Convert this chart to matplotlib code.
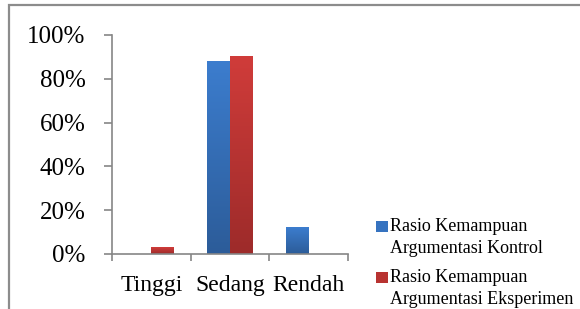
import numpy as np
import matplotlib.pyplot as plt
from matplotlib.colors import LinearSegmentedColormap
from matplotlib.patches import Rectangle
from matplotlib.legend_handler import HandlerBase

categories = ["Tinggi", "Sedang", "Rendah"]
kontrol = [0.0, 0.88, 0.12]
eksperimen = [0.03, 0.90, 0.0]
series_names = ["Rasio Kemampuan\nArgumentasi Kontrol",
                "Rasio Kemampuan\nArgumentasi Eksperimen"]
y_ticks = [0, 0.2, 0.4, 0.6, 0.8, 1.0]
y_labels = ["0%", "20%", "40%", "60%", "80%", "100%"]

plt.rcParams["font.family"] = ["Liberation Serif", "DejaVu Serif"]


class TopSquare(HandlerBase):
    # small square next to the first text line instead of the last one
    def create_artists(self, legend, orig_handle, xdescent, ydescent,
                       width, height, fontsize, trans):
        s = 0.62 * fontsize
        r = Rectangle((-xdescent, -ydescent + height - s), s, s,
                      facecolor=orig_handle.get_facecolor(),
                      edgecolor="none", transform=trans)
        return [r]


fig = plt.figure(figsize=(5.8, 3.09), dpi=100)
ax = fig.add_axes([0.193, 0.178, 0.407, 0.709])

# outer chart frame (only top and left edges fall inside the picture)
fig.patches.append(Rectangle((9 / 580, -0.1), 1.2, 1.1 - 5 / 309 + 0.001,
                             transform=fig.transFigure, fill=False,
                             edgecolor="#8c8c8c", linewidth=1.6))

x = np.arange(len(categories))
w = 0.29
blue = LinearSegmentedColormap.from_list("b", ["#2c5c99", "#3c7dce"])
red = LinearSegmentedColormap.from_list("r", ["#9d2b2a", "#d03c3a"])
grad = np.linspace(0, 1, 256).reshape(-1, 1)

bars_k = ax.bar(x - w / 2, kontrol, w, color="#3470b8")
bars_e = ax.bar(x + w / 2, eksperimen, w, color="#be3533")

# vertical gradient fill, like the office chart style
for bars, cmap in [(bars_k, blue), (bars_e, red)]:
    for b in bars:
        if b.get_height() <= 0:
            continue
        x0 = b.get_x()
        ax.imshow(grad, extent=[x0, x0 + b.get_width(), 0, b.get_height()],
                  origin="lower", cmap=cmap, aspect="auto", zorder=2)

ax.set_xlim(-0.5, 2.5)
ax.set_ylim(0, 1.0)
ax.set_yticks(y_ticks)
ax.set_yticklabels(y_labels, fontsize=18)
ax.set_xticks([-0.5, 0.5, 1.5, 2.5])
ax.set_xticklabels([])
ax.set_xticks(x, minor=True)
ax.set_xticklabels(categories, minor=True, fontsize=17)
ax.tick_params(axis="x", which="minor", length=0, pad=15)
ax.tick_params(axis="x", which="major", length=5, color="#868686", width=1.2)
ax.tick_params(axis="y", length=6, color="#868686", width=1.2, pad=13)

for s in ["top", "right"]:
    ax.spines[s].set_visible(False)
for s in ["left", "bottom"]:
    ax.spines[s].set_color("#868686")
    ax.spines[s].set_linewidth(1.2)

handles = [Rectangle((0, 0), 1, 1, facecolor="#3673c0"),
           Rectangle((0, 0), 1, 1, facecolor="#b83331")]
leg = ax.legend(handles, series_names, loc="upper left",
                bbox_to_anchor=(1.09, 0.195), frameon=False, fontsize=13,
                handlelength=0.6, handleheight=2.62, handletextpad=0.15,
                labelspacing=0.69, borderaxespad=0,
                handler_map={Rectangle: TopSquare()})
for t in leg.get_texts():
    t.set_linespacing(1.33)

fig.savefig("out.png", dpi=100)
